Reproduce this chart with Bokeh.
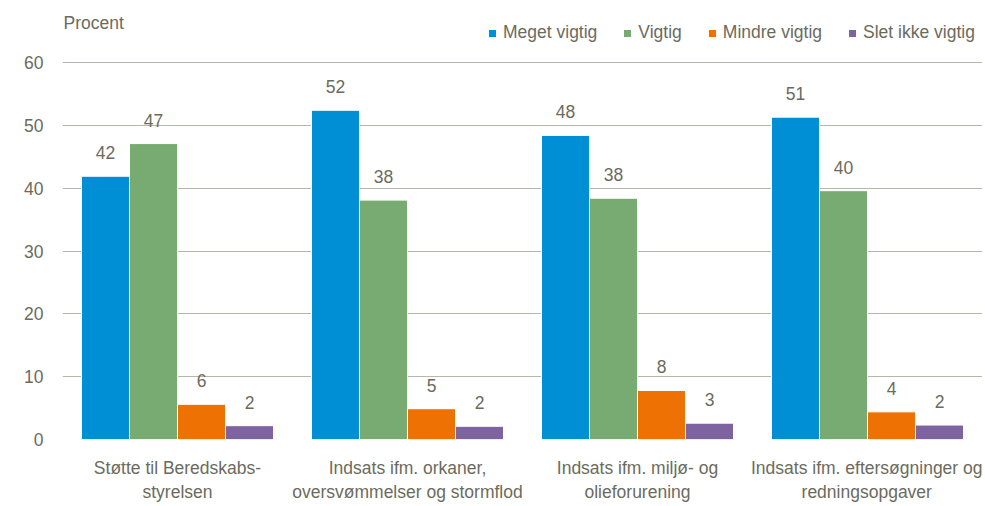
from bokeh.plotting import figure
from bokeh.models import (ColumnDataSource, Range1d, FixedTicker, LabelSet, Label,
                          Legend, LegendItem)
from bokeh.core.properties import value
from bokeh.embed import file_html
from bokeh.resources import INLINE

categories = ["Støtte til Beredskabs-\nstyrelsen",
              "Indsats ifm. orkaner,\noversvømmelser og stormflod",
              "Indsats ifm. miljø- og\nolieforurening",
              "Indsats ifm. eftersøgninger og\nredningsopgaver"]
series = ["Meget vigtig", "Vigtig", "Mindre vigtig", "Slet ikke vigtig"]
meget_vigtig = [41.9, 52.4, 48.4, 51.3]
vigtig = [47.1, 38.1, 38.4, 39.6]
mindre_vigtig = [5.6, 4.9, 7.8, 4.4]
slet_ikke_vigtig = [2.2, 2.1, 2.6, 2.3]
y_ticks = [0, 10, 20, 30, 40, 50, 60]
y_label = "Procent"

values = [meget_vigtig, vigtig, mindre_vigtig, slet_ikke_vigtig]
colors = ["#008fd5", "#77ab71", "#ee7203", "#7e63a1"]
TXT = "#6b6b5d"
FONT = "Liberation Sans"
FS = "17.5px"

p = figure(width=982, height=504, output_backend="svg", toolbar_location=None,
           x_range=Range1d(0, 4), y_range=Range1d(0, 69.87),
           min_border_left=62, min_border_right=0, min_border_top=0,
           min_border_bottom=65)
p.outline_line_color = None
p.background_fill_color = "white"
p.border_fill_color = "white"

bw = 0.2087
renderers = []
for j, (name, vals, col) in enumerate(zip(series, values, colors)):
    xs = [i + 0.5 + (j - 1.5) * bw for i in range(len(categories))]
    src = ColumnDataSource(dict(x=xs, top=vals, lab=[str(round(v)) for v in vals]))
    r = p.vbar(x="x", top="top", width=bw, source=src, fill_color=col,
               line_color="white", line_width=1)
    renderers.append(r)
    p.add_layout(LabelSet(x="x", y="top", text="lab", source=src, y_offset=17,
                          text_align="center", text_baseline="bottom",
                          text_font=value(FONT), text_font_size=value(FS),
                          text_color=TXT))

p.xaxis.ticker = FixedTicker(ticks=[i + 0.5 for i in range(len(categories))])
p.xaxis.major_label_overrides = {i + 0.5: c for i, c in enumerate(categories)}
p.xaxis.axis_line_color = None
p.xaxis.major_tick_line_color = None
p.xaxis.minor_tick_line_color = None
p.xaxis.major_tick_out = 0
p.xaxis.major_tick_in = 0
p.xaxis.major_label_text_font = FONT
p.xaxis.major_label_text_font_size = FS
p.xaxis.major_label_text_color = TXT
p.xaxis.major_label_standoff = 18

p.yaxis.ticker = FixedTicker(ticks=y_ticks)
p.yaxis.axis_line_color = None
p.yaxis.major_tick_line_color = None
p.yaxis.minor_tick_line_color = None
p.yaxis.major_tick_out = 0
p.yaxis.major_tick_in = 0
p.yaxis.major_label_text_font = FONT
p.yaxis.major_label_text_font_size = FS
p.yaxis.major_label_text_color = TXT
p.yaxis.major_label_standoff = 19

p.xgrid.grid_line_color = None
p.ygrid.grid_line_color = "#b7b7a9"
p.ygrid.grid_line_width = 1

p.add_layout(Label(x=0, y=60, x_offset=1, y_offset=40, text=y_label,
                   text_font=FONT, text_font_size=FS, text_color=TXT,
                   text_baseline="middle", text_align="left"))

legend = Legend(items=[LegendItem(label=s, renderers=[r]) for s, r in zip(series, renderers)],
                orientation="horizontal", location=(425, 396),
                glyph_width=10, glyph_height=10, label_standoff=6, spacing=25,
                label_text_font=FONT, label_text_font_size=FS,
                label_text_color=TXT, border_line_color=None,
                background_fill_alpha=0, padding=0, margin=0)
p.add_layout(legend, "center")

open("out.html", "w").write(file_html(p, INLINE))
